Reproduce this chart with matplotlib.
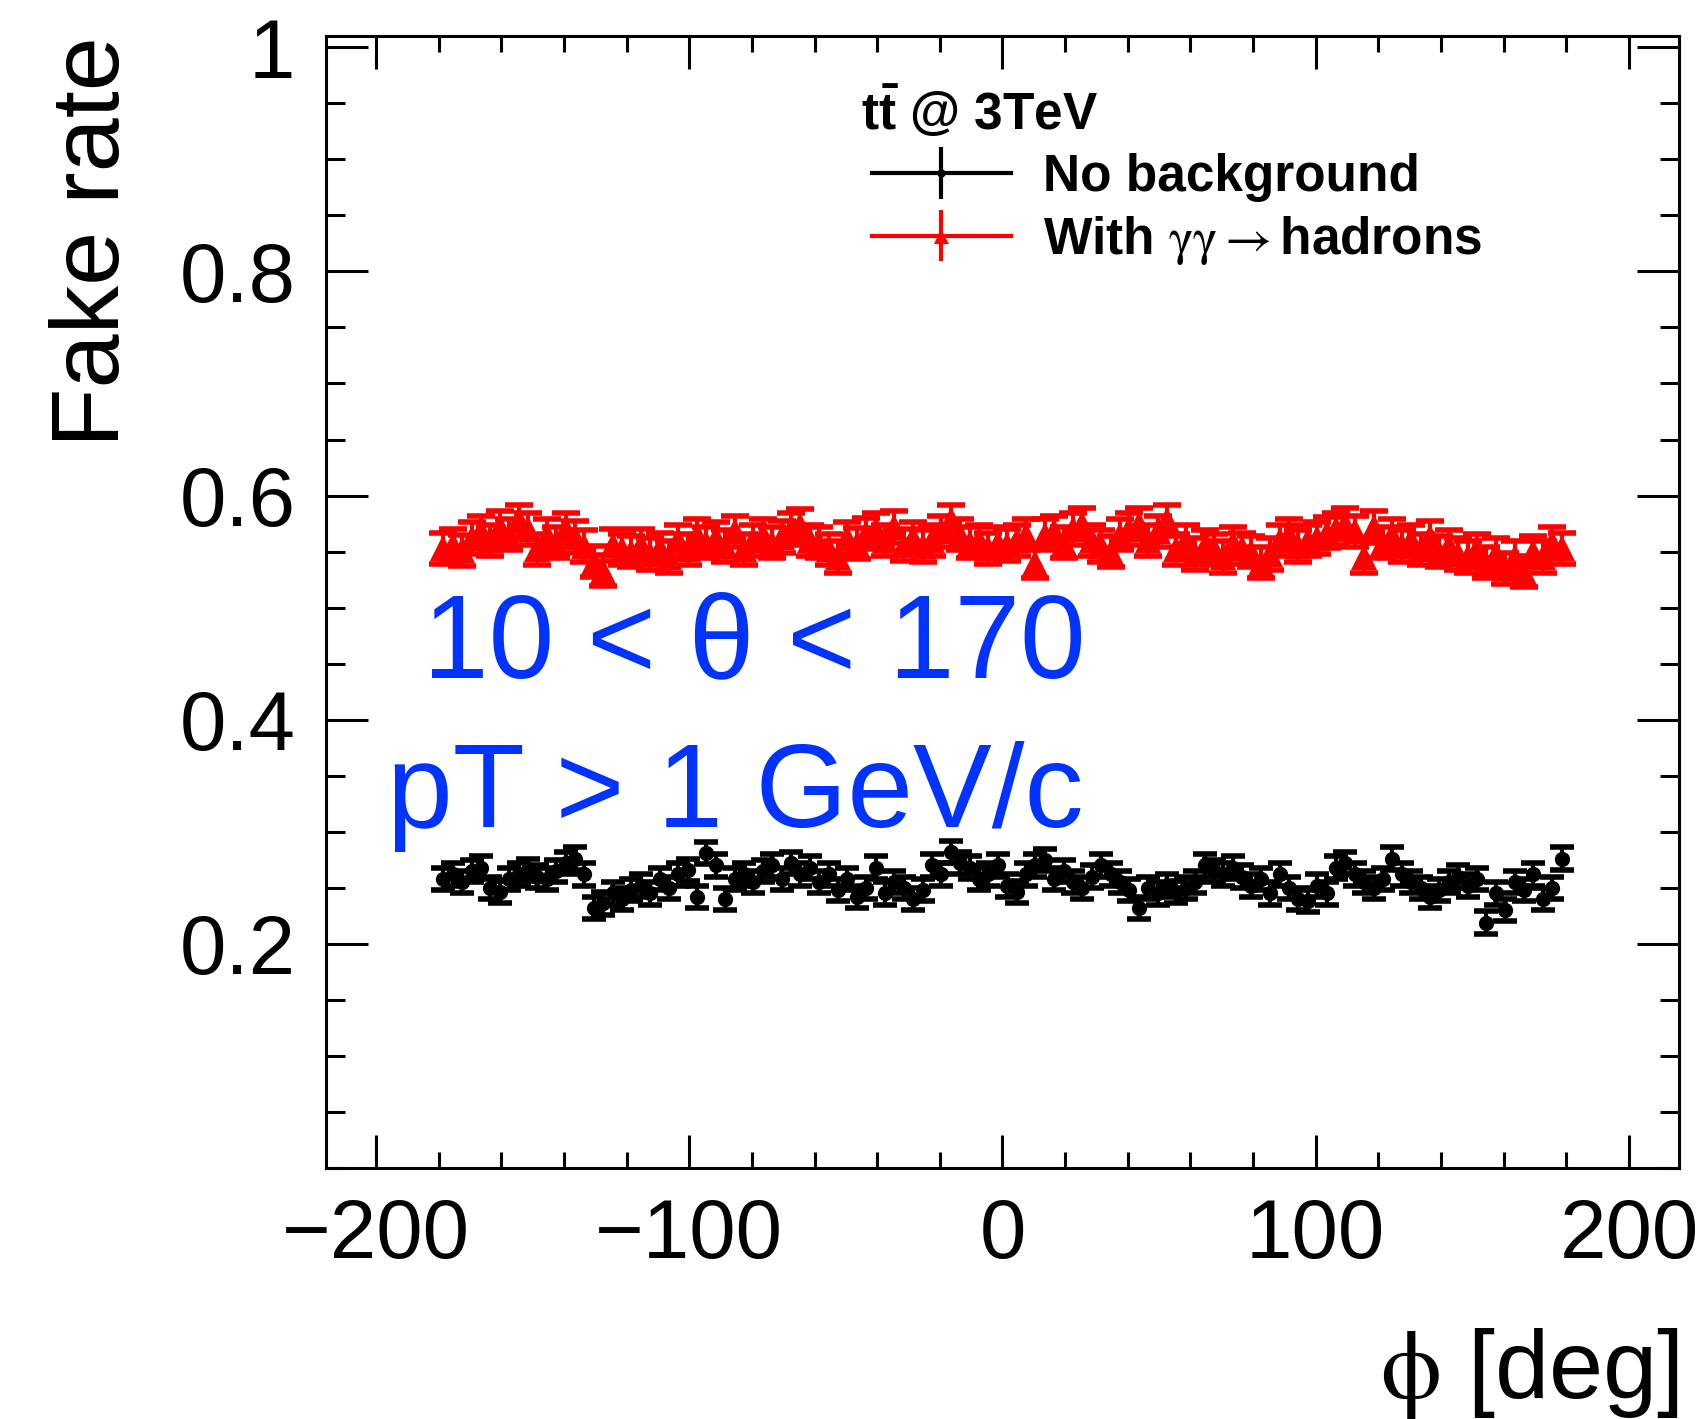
import numpy as np
import matplotlib
matplotlib.use("Agg")
import matplotlib.pyplot as plt
from matplotlib.ticker import FixedLocator, MultipleLocator

plt.rcParams['font.family'] = ['Liberation Sans', 'DejaVu Sans']
plt.rcParams['mathtext.fontset'] = 'custom'
plt.rcParams['mathtext.rm'] = 'Liberation Sans:bold'
plt.rcParams['mathtext.bf'] = 'Liberation Sans:bold'

# bin centres, 3 deg wide bins from -180 to 180
phi = np.arange(-178.5, 180, 3.0)

# fake rate, no background (black)
no_bkg = [0.258, 0.262, 0.255, 0.265, 0.268, 0.250, 0.246, 0.258, 0.262, 0.266,
          0.260, 0.258, 0.265, 0.272, 0.276, 0.262, 0.232, 0.236, 0.245, 0.240,
          0.248, 0.252, 0.245, 0.258, 0.250, 0.262, 0.266, 0.242, 0.281, 0.270,
          0.240, 0.258, 0.262, 0.255, 0.265, 0.270, 0.258, 0.272, 0.262, 0.268,
          0.255, 0.262, 0.248, 0.258, 0.242, 0.250, 0.268, 0.245, 0.255, 0.250,
          0.240, 0.248, 0.270, 0.262, 0.282, 0.272, 0.268, 0.258, 0.262, 0.270,
          0.252, 0.246, 0.262, 0.270, 0.275, 0.258, 0.265, 0.255, 0.250, 0.260,
          0.270, 0.262, 0.255, 0.248, 0.232, 0.250, 0.245, 0.252, 0.246, 0.250,
          0.255, 0.270, 0.265, 0.262, 0.268, 0.260, 0.252, 0.258, 0.245, 0.262,
          0.250, 0.240, 0.238, 0.252, 0.245, 0.268, 0.272, 0.262, 0.255, 0.250,
          0.258, 0.276, 0.262, 0.255, 0.250, 0.242, 0.248, 0.255, 0.260, 0.252,
          0.258, 0.219, 0.245, 0.230, 0.255, 0.248, 0.262, 0.240, 0.250, 0.276]
no_bkg_err = 0.010

# fake rate with gamma gamma -> hadrons overlay (red)
with_bkg = [0.553, 0.556, 0.551, 0.562, 0.568, 0.560, 0.572, 0.565, 0.578, 0.570,
            0.552, 0.565, 0.558, 0.570, 0.563, 0.555, 0.541, 0.533, 0.556, 0.552,
            0.550, 0.556, 0.548, 0.553, 0.545, 0.560, 0.552, 0.565, 0.558, 0.562,
            0.555, 0.568, 0.552, 0.560, 0.565, 0.558, 0.563, 0.570, 0.574, 0.560,
            0.558, 0.552, 0.545, 0.562, 0.557, 0.566, 0.570, 0.560, 0.572, 0.556,
            0.562, 0.555, 0.560, 0.568, 0.578, 0.565, 0.558, 0.560, 0.553, 0.558,
            0.556, 0.560, 0.565, 0.540, 0.565, 0.568, 0.558, 0.570, 0.575, 0.560,
            0.555, 0.550, 0.565, 0.570, 0.575, 0.560, 0.568, 0.578, 0.552, 0.560,
            0.548, 0.555, 0.552, 0.545, 0.558, 0.553, 0.550, 0.540, 0.548, 0.560,
            0.565, 0.555, 0.560, 0.562, 0.567, 0.570, 0.575, 0.568, 0.545, 0.572,
            0.558, 0.565, 0.555, 0.560, 0.552, 0.563, 0.550, 0.555, 0.548, 0.545,
            0.552, 0.540, 0.548, 0.535, 0.545, 0.532, 0.550, 0.545, 0.558, 0.553]
with_bkg_err = 0.014

y_ticks = [0.2, 0.4, 0.6, 0.8, 1.0]
y_ticklabels = ["0.2", "0.4", "0.6", "0.8", "1"]
x_ticks = [-200, -100, 0, 100, 200]

fig = plt.figure(figsize=(17.02, 14.19), dpi=100)
ax = fig.add_axes([0.1915, 0.1769, 0.795, 0.7977])

eb_red = ax.errorbar(phi, with_bkg, yerr=with_bkg_err, fmt='^', color='red',
                     ms=19, elinewidth=3, capsize=10, capthick=4)
eb_blk = ax.errorbar(phi, no_bkg, yerr=no_bkg_err, fmt='o', color='black',
                     ms=11, elinewidth=3, capsize=8.5, capthick=4)
eb_red[0].set_markeredgewidth(0)
eb_blk[0].set_markeredgewidth(0)

# legend proxies (line + marker + vertical bar, as in ROOT "lep")
leg_blk = ax.errorbar([np.nan], [np.nan], yerr=[no_bkg_err], fmt='-o', color='black',
                      lw=3, ms=10, mew=0, elinewidth=3, capsize=0)
leg_red = ax.errorbar([np.nan], [np.nan], yerr=[with_bkg_err], fmt='-^', color='red',
                      lw=3, ms=18, mew=0, elinewidth=3, capsize=0)

ax.set_xlim(-216, 216)
ax.set_ylim(0, 1.01)
ax.xaxis.set_major_locator(FixedLocator(x_ticks))
ax.xaxis.set_minor_locator(MultipleLocator(20))
ax.yaxis.set_major_locator(FixedLocator(y_ticks))
ax.set_yticklabels(y_ticklabels)
ax.yaxis.set_minor_locator(MultipleLocator(0.05))

for s in ax.spines.values():
    s.set_linewidth(2.2)
ax.tick_params(which='both', direction='in', top=True, right=True, width=2.2, labelsize=60)
ax.tick_params(axis='x', which='major', length=24, pad=21)
ax.tick_params(axis='x', which='minor', length=11.5)
ax.tick_params(axis='y', which='major', length=30, pad=22)
ax.tick_params(axis='y', which='minor', length=14)

ax.set_ylabel("Fake rate", fontsize=70, loc='top')
ax.yaxis.set_label_coords(-0.138, 1.0)
xl = ax.set_xlabel(r"$\mathrm{\phi}$ [deg]", fontsize=70, loc='right')
xl.set_math_fontfamily('stix')
ax.xaxis.set_label_coords(1.0, -0.140)

# cut labels
ax.text(-185.0, 0.4375, "10 < θ < 170", fontsize=85, color='#0033ff', va='baseline')
ax.text(-196.4, 0.3045, "pT > 1 GeV/c", fontsize=85, color='#0033ff', va='baseline')

# legend header
hdr = ax.text(0.3954, 0.917, r"t$\bar{\mathrm{t}}$ @ 3TeV", transform=ax.transAxes,
              fontsize=37, fontweight='bold', va='baseline', ha='left')
hdr.set_math_fontfamily('custom')

leg = ax.legend([leg_blk, leg_red], ["No background", r"With $\mathrm{\gamma\gamma}{\rightarrow}$hadrons"],
                loc='upper left', bbox_to_anchor=(0.4035, 0.8967), frameon=False,
                prop={'family': 'Liberation Sans', 'weight': 'bold', 'size': 37},
                borderpad=0, borderaxespad=0, handlelength=2.7,
                handletextpad=0.62, labelspacing=0.23, markerscale=0.6)
for t in leg.get_texts():
    t.set_math_fontfamily('stix')

fig.savefig("out.png", dpi=100)
